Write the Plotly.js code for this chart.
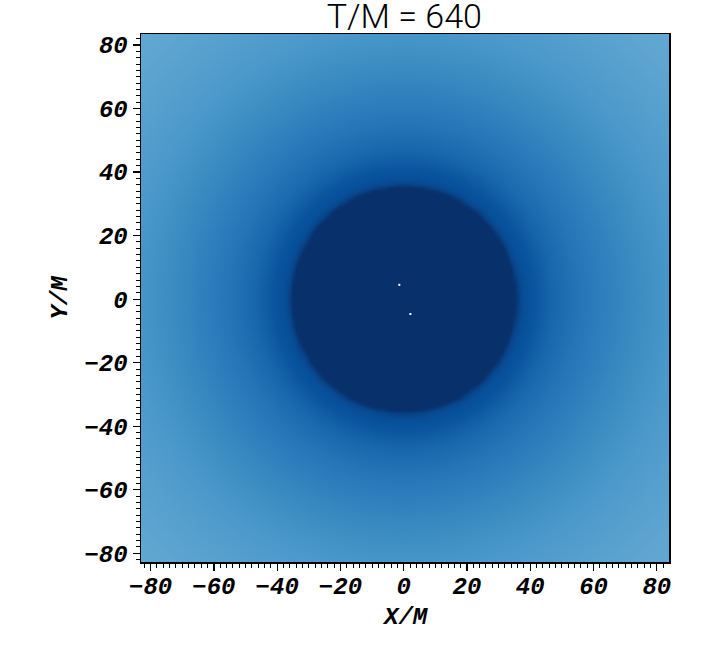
<!DOCTYPE html>
<html>
<head>
<meta charset="utf-8">
<script src="https://cdn.plot.ly/plotly-3.0.1.min.js"></script>
<style>
  body { margin: 0; background: #fff; }
  #plot { width: 708px; height: 662px; }
</style>
</head>
<body>
<div id="plot"></div>
<script>
// radial profile of the field (radius in M, level 0..1)
var profR = [0, 35.2, 36.4, 38, 41, 45, 50, 58, 66, 72, 78, 84, 92, 100, 110, 125];
var profZ = [1.0, 1.0, 0.92, 0.885, 0.865, 0.815, 0.77, 0.72, 0.685, 0.655, 0.63, 0.605, 0.583, 0.562, 0.54, 0.52];

// the two small white marks near the centre
var markX = [-1.4, 2.1];
var markY = [4.5, -4.7];

var xTicks = [-80, -60, -40, -20, 0, 20, 40, 60, 80];
var yTicks = [-80, -60, -40, -20, 0, 20, 40, 60, 80];

// grid coordinates for the heatmap
var gridX = [];
for (var i = -85; i <= 85; i++) gridX.push(i);
var gridY = gridX.slice();

function levelAt(r) {
    for (var k = 1; k < profR.length; k++) {
        if (r <= profR[k]) {
            var t = (r - profR[k - 1]) / (profR[k] - profR[k - 1]);
            return profZ[k - 1] + t * (profZ[k] - profZ[k - 1]);
        }
    }
    return profZ[profZ.length - 1];
}

var zGrid = [];
gridY.forEach(function (yv) {
    var row = [];
    gridX.forEach(function (xv) {
        row.push(levelAt(Math.sqrt(xv * xv + yv * yv)));
    });
    zGrid.push(row);
});

var blues = [
    [0, '#f7fbff'], [0.125, '#deebf7'], [0.25, '#c6dbef'], [0.375, '#9ecae1'],
    [0.5, '#6baed6'], [0.625, '#4292c6'], [0.75, '#2171b5'], [0.875, '#08519c'],
    [1, '#08306b']
];

var field = {
    type: 'heatmap',
    x: gridX,
    y: gridY,
    z: zGrid,
    zmin: 0,
    zmax: 1,
    colorscale: blues,
    zsmooth: 'best',
    showscale: false,
    hoverinfo: 'skip'
};

var marks = {
    type: 'scatter',
    mode: 'markers',
    x: markX,
    y: markY,
    marker: { symbol: 'square', size: 2, color: '#ffffff' },
    hoverinfo: 'skip'
};

var monoFont = { family: 'Liberation Mono, Courier New, monospace', size: 24, color: '#000', weight: 'bold', style: 'italic' };

var axisBase = {
    showgrid: false,
    zeroline: false,
    showline: true,
    linecolor: '#000',
    linewidth: 1.5,
    mirror: true,
    ticks: 'outside',
    ticklen: 7,
    tickwidth: 1.2,
    tickcolor: '#000',
    tickfont: monoFont,
    minor: { dtick: 2, ticks: 'outside', ticklen: 4, tickwidth: 1, tickcolor: '#000' }
};

var layout = {
    width: 708,
    height: 662,
    margin: { l: 141, r: 39, t: 34, b: 100 },
    paper_bgcolor: '#fff',
    plot_bgcolor: '#fff',
    showlegend: false,
    title: {
        text: 'T/M = 640',
        font: { family: 'Roboto, sans-serif', size: 34, color: '#000', weight: 300 },
        x: 0.571,
        xanchor: 'center',
        yref: 'container',
        y: 0.975,
        yanchor: 'middle'
    },
    xaxis: Object.assign({}, axisBase, {
        range: [-83.05, 83.85],
        tickvals: xTicks,
        ticklabelstandoff: -5,
        ticktext: xTicks.map(function (v) { return v < 0 ? '\u2212' + Math.abs(v) : String(v); })
    }),
    yaxis: Object.assign({}, axisBase, {
        range: [-82.75, 83.45],
        tickvals: yTicks,
        ticktext: yTicks.map(function (v) { return v < 0 ? '\u2212' + Math.abs(v) : String(v); }),
        title: { text: 'Y/M', font: monoFont, standoff: 10 }
    }),
    // x axis title placed as annotation to sit closer to the tick labels
    annotations: [{
        text: 'X/M',
        font: monoFont,
        showarrow: false,
        xref: 'paper',
        yref: 'paper',
        x: 0.5,
        y: -0.106,
        xanchor: 'center',
        yanchor: 'middle'
    }]
};

Plotly.newPlot('plot', [field, marks], layout, { staticPlot: true });
</script>
</body>
</html>
